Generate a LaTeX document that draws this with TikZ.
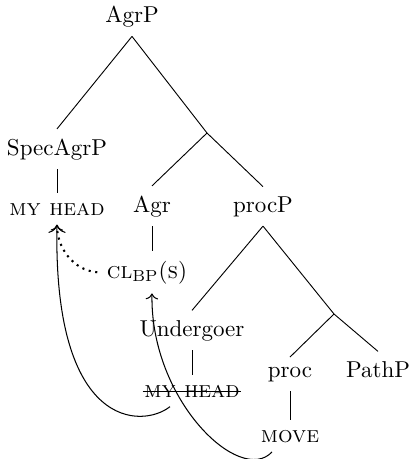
\documentclass[tikz,border=0pt]{standalone}
\usetikzlibrary{calc,arrows.meta}
\tikzset{
 cat/.style={anchor=base,inner sep=4pt},
 branch/.style={line width=.4pt},
 strike/.style={line width=.5pt},
 movement/.style={->,line width=.45pt},
 agree/.style={-{To[line width=.45pt]},dotted,line width=.9pt}
}

\begin{document}
\begin{tikzpicture}[x=0.435pt,y=-0.435pt]
\path[use as bounding box] (0,0) rectangle (408,459);
% tree labels
\node[cat] (agrp) at (132,22) {AgrP};
\node[cat] (spec) at (57,155) {SpecAgrP};
\node[cat] (myhead) at (57,215) {\textsc{my head}};
\coordinate (agrbar) at (207,133);
\node[cat] (agr) at (152,212) {Agr};
\node[cat] (procp) at (263,212) {procP};
\node[cat] (cl) at (147,278) {\textsc{cl}\textsubscript{BP}(\textsc{s})};
\node[cat] (und) at (192,336) {Undergoer};
\node[cat] (copy) at (192,397) {\textsc{my head}};
\coordinate (procbar) at (334,314);
\node[cat] (proc) at (290,377) {proc};
\node[cat] (pathp) at (378,377) {PathP};
\node[cat] (move) at (290,442) {\textsc{move}};
% branches
\draw[branch] (agrp.south) -- (spec.north);
\draw[branch] (agrp.south) -- (agrbar);
\draw[branch] (agrbar) -- (agr.north);
\draw[branch] (agrbar) -- (procp.north);
\draw[branch] (spec.south) -- (myhead.north);
\draw[branch] (agr.south) -- (agr.south |- cl.north);
\draw[branch] (procp.south) -- (und.north);
\draw[branch] (procp.south) -- (procbar);
\draw[branch] (procbar) -- (proc.north);
\draw[branch] (procbar) -- (pathp.north);
\draw[branch] (und.south) -- (copy.north);
\draw[branch] (proc.south) -- (move.north);
% struck-out copy
\draw[strike] ([xshift=3.5pt,yshift=2.3pt]copy.base west) -- ([xshift=-3.5pt,yshift=2.3pt]copy.base east);
% movement and agreement
\draw[agree] (cl.west) .. controls +(-25,-2) and +(0,22) .. (myhead.south);
\draw[movement] ($(copy.south)+(-22,0)$) .. controls +(-28,22) and +(-4,205) .. (myhead.south);
\draw[movement] ($(move.south)+(-18,0)$) .. controls +(-32,34) and +(-2,107) .. (agr.south |- cl.south);
\end{tikzpicture}
\end{document}
